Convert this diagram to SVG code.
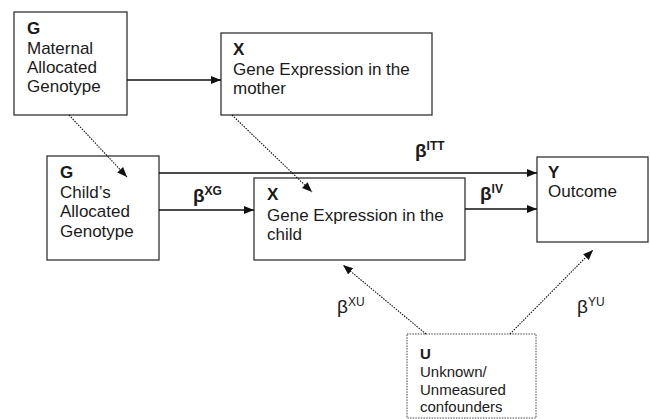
<svg xmlns="http://www.w3.org/2000/svg" width="650" height="419" viewBox="0 0 650 419">
<style>
text{font-family:"Liberation Sans",Arial,sans-serif;fill:#1a1a1a}
.t{font-size:17px}
.b{font-weight:bold}
.s{font-size:15px}
.box{fill:#fff;stroke:#333;stroke-width:1.3}
.dbox{fill:#fff;stroke:#444;stroke-width:1;stroke-dasharray:1.5 1.2}
.e{stroke:#111;stroke-width:1.3;fill:none}
.d{stroke:#111;stroke-width:1.1;fill:none;stroke-dasharray:1.5 1.2}
.lb{font-size:19px;font-weight:bold}
.ln{font-size:19px}
.sup{font-size:12px}
</style>
<defs>
<marker id="ah" markerUnits="userSpaceOnUse" markerWidth="11" markerHeight="9" refX="10" refY="4" orient="auto">
<path d="M0,0 L10,4 L0,8 z" fill="#111"/>
</marker>
</defs>
<g id="maternal-g">
<rect class="box" x="14" y="12" width="113" height="103"/>
<text class="t b" x="27" y="34">G</text>
<text class="t" x="27" y="54">Maternal</text>
<text class="t" x="27" y="73">Allocated</text>
<text class="t" x="27" y="92">Genotype</text>
</g>
<g id="mother-x">
<rect class="box" x="221" y="33" width="211" height="82"/>
<text class="t b" x="233" y="55">X</text>
<text class="t" x="233" y="75">Gene Expression in the</text>
<text class="t" x="233" y="94">mother</text>
</g>
<g id="child-g">
<rect class="box" x="47" y="156" width="112" height="104"/>
<text class="t b" x="60" y="178">G</text>
<text class="t" x="60" y="198">Child’s</text>
<text class="t" x="60" y="217">Allocated</text>
<text class="t" x="60" y="237">Genotype</text>
</g>
<g id="child-x">
<rect class="box" x="254" y="178" width="211" height="82"/>
<text class="t b" x="267" y="200">X</text>
<text class="t" x="267" y="221">Gene Expression in the</text>
<text class="t" x="267" y="240">child</text>
</g>
<g id="outcome-y">
<rect class="box" x="537" y="157" width="111" height="85"/>
<text class="t b" x="548" y="178">Y</text>
<text class="t" x="548" y="197">Outcome</text>
</g>
<g id="confounders-u">
<rect class="dbox" x="407" y="334" width="129" height="84"/>
<text class="s b" x="420" y="359" font-size="16">U</text>
<text class="s" x="420" y="377">Unknown/</text>
<text class="s" x="420" y="395">Unmeasured</text>
<text class="s" x="420" y="412">confounders</text>
</g>
<g id="connectors">
<line class="e" x1="127" y1="80" x2="221" y2="80" marker-end="url(#ah)"/>
<line class="e" x1="159" y1="173" x2="537" y2="173" marker-end="url(#ah)"/>
<line class="e" x1="159" y1="210" x2="254" y2="210" marker-end="url(#ah)"/>
<line class="e" x1="465" y1="209" x2="537" y2="209" marker-end="url(#ah)"/>
<line class="d" x1="69" y1="115" x2="127" y2="177" marker-end="url(#ah)"/>
<line class="d" x1="232" y1="115" x2="312" y2="192" marker-end="url(#ah)"/>
<line class="d" x1="426" y1="334" x2="343" y2="265" marker-end="url(#ah)"/>
<line class="d" x1="510" y1="334" x2="593" y2="250" marker-end="url(#ah)"/>
<text class="lb" x="415" y="157">β<tspan class="sup" dy="-7">ITT</tspan></text>
<text class="lb" x="193" y="202">β<tspan class="sup" dy="-7">XG</tspan></text>
<text class="lb" x="480" y="200">β<tspan class="sup" dy="-7">IV</tspan></text>
<text class="ln" x="337" y="313">β<tspan class="sup" dy="-7" font-size="13">XU</tspan></text>
<text class="ln" x="577" y="313">β<tspan class="sup" dy="-7" font-size="13">YU</tspan></text>
</g>
</svg>
